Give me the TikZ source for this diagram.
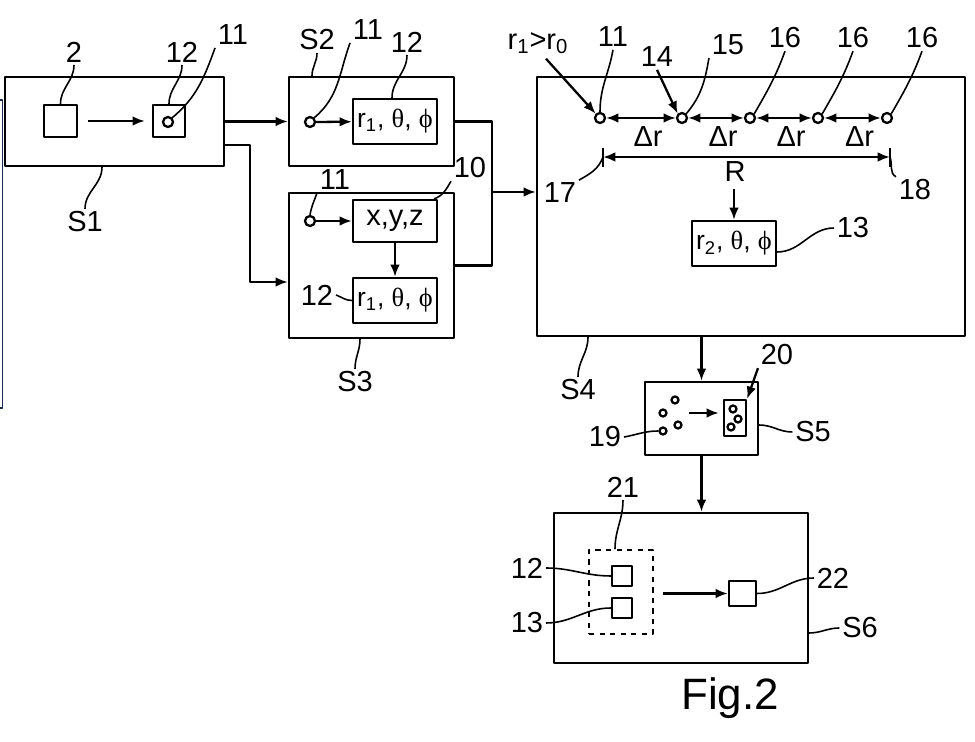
\documentclass[tikz,border=0pt]{standalone}
\usepackage{fontspec}
\setmainfont{Liberation Sans}
\newfontfamily\grk{Liberation Serif}
\usetikzlibrary{arrows.meta,calc}
\definecolor{navy}{RGB}{30,40,85}
\newcommand\rthph[1]{\fontsize{15}{18}\selectfont r\textsubscript{#1}, {\grk θ}, {\grk ϕ}}

\begin{document}
\begin{tikzpicture}[x=0.02cm,y=-0.02cm,line width=1.3pt,join=round,
    font=\fontsize{16.5}{19}\selectfont,
    box/.style 2 args={draw,inner sep=0pt,minimum width=#1*0.02cm,minimum height=#2*0.02cm},
    dot/.style={draw,circle,inner sep=0pt,minimum size=#1*0.02cm},
    arr/.style={-{Latex[length=7pt,width=5.5pt]}},
    dbl/.style={{Latex[length=7pt,width=5.5pt]}-{Latex[length=7pt,width=5.5pt]}},
    lead/.style={line width=0.9pt}]
    \useasboundingbox (0,0) rectangle (975,742);
    \draw[navy,line width=0.8pt] (0,100) -- (2.5,100) -- (2.5,408) -- (0,408);
    % S1
    \node[box={219}{89}] (S1) at (114.5,121.5) {};
    \node[box={33}{32}] (sq2) at (60.5,121) {};
    \node[box={32}{32}] (sq12) at (169,121) {};
    \node[dot=10] (c11a) at (168,122) {};
    \draw[arr,shorten <=0.2cm,shorten >=0.14cm] (sq2.east) -- (sq12.west);
    % S2
    \node[box={165}{89}] (S2) at (371.5,121.5) {};
    \node[dot=10] (c11b) at (310,122) {};
    \node[box={84}{45}] (b12a) at (395,121.5) {\rthph{1}};
    \draw[arr] (c11b) -- (b12a);
    % S3
    \node[box={165}{145}] (S3) at (371.5,265.5) {};
    \node[dot=10] (c11c) at (310,221) {};
    \node[box={84}{42}] (bxyz) at (395,221) {x,y,z};
    \node[box={84}{45}] (b12b) at (395,300.5) {\rthph{1}};
    \draw[arr] (c11c) -- (bxyz);
    \draw[arr] (bxyz) -- (b12b);
    % S4
    \node[box={428}{259}] (S4) at (751,206.5) {};
    \foreach \n/\x in {c1/600,c2/682,c3/750,c4/818,c5/887}
        \node[dot=10] (\n) at (\x,118) {};
    \foreach \a/\b in {c1/c2,c2/c3,c3/c4,c4/c5}
        \draw[dbl] (\a) -- (\b) node[midway,below=1pt,xshift=4pt] (dr\a) {Δr};
    \path (603,148) coordinate (t17a) (603,167) coordinate (t17b) (603,157) coordinate (t17)
          (890,148) coordinate (t18a) (890,167) coordinate (t18b) (890,157) coordinate (t18);
    \draw (t17a) -- (t17b) (t18a) -- (t18b);
    \draw[dbl] (t17) -- (t18);
    \node (R) at (735,172) {R};
    \node[box={84}{45}] (b13) at (734,243.5) {\rthph{2}};
    \draw[arr] (b13.north |- R.south) -- (b13.north);
    % S5
    \node[box={113}{73}] (S5) at (701.5,418.5) {};
    \foreach \n/\x/\y in {d1/663/413,d2/675/400,d3/678/425,d4/663/431}
        \node[dot=7] (\n) at (\x,\y) {};
    \node[box={22}{36}] (r20) at (735,418) {};
    \foreach \n/\x/\y in {e1/733/409,e2/738/419,e3/731/427}
        \node[dot=7] (\n) at (\x,\y) {};
    \path (689,413) coordinate (a5);
    \draw[arr,shorten >=0.08cm] (a5) -- (r20.west |- a5);
    % S6
    \node[box={254}{150}] (S6) at (681,588) {};
    \node[box={64}{84},dashed,line width=1pt] (d21) at (621,592) {};
    \node[box={20}{20}] (sq12c) at (622,576) {};
    \node[box={20}{20}] (sq13) at (622,608) {};
    \node[box={27}{25}] (sq22) at (742.5,593.5) {};
    \draw[arr,shorten <=0.18cm] (d21.east |- sq22) -- (sq22.west);
    % connections between steps
    \draw[arr] (S1.east) -- (S2.west);
    \draw[arr] (S1.east |- 0,145) -- (250,145) |- (S3.west |- 0,282);
    \path (492,192) coordinate (m);
    \draw (S2.east) -| (m) |- (S3.east);
    \draw[arr] (m) -- (S4.west |- m);
    \draw[arr] (S5.north |- S4.south) -- (S5.north);
    \draw[arr] (S5.south) -- (S5.south |- S6.north);
    % labels
    \foreach \n/\t/\x/\y in {l2/2/74/52,l12a/12/182/52,l11a/11/233/35,lS1/S1/85/222,
        lS2/S2/317/40,l11b/11/368/30,l12b/12/407/42,l11c/11/335/180,l10/10/470/168,
        l12c/12/317/295,lS3/S3/355/382,l11d/11/613/37,l15/15/728/45,l16a/16/785/38,
        l16b/16/853/38,l16c/16/922/38,l17/17/560/193,l18/18/915/190,l13/13/853/228,
        lS4/S4/578/390,l20/20/777/355,l19/19/605/437,lS5/S5/813/432,l21/21/623/487,
        l12d/12/527/568,l13b/13/527/623,l22/22/833/578,lS6/S6/860/628,l14/14/657/57}
        \node[inner sep=1pt] (\n) at (\x,\y) {\t};
    \node[inner sep=1pt] (lr) at (538,43) {r\textsubscript{1}>r\textsubscript{0}};
    \node[font=\fontsize{25}{30}\selectfont] (fig) at (730,698) {Fig.2};
    \draw[arr] (lr.south) ++(8,2) -- (c1.north west);
    \draw[arr] (l14.south) -- (c2.north west);
    \draw[arr] (l20.south west) -- (r20.north east);
    % leaders
    \draw[lead] (sq2.north) to[out=90,in=-90] (l2.south);
    \draw[lead] (sq12.north) to[out=90,in=-90] (l12a.south);
    \draw[lead] (c11a.north east) to[out=40,in=-110] (l11a.south west);
    \draw[lead] (S1.south -| 102,0) to[out=-90,in=90] (lS1.north);
    \draw[lead] (S2.north -| 312,0) to[out=90,in=-90] (lS2.south);
    \draw[lead] (c11b.north east) to[out=40,in=-110] (l11b.south west);
    \draw[lead] (b12a.north -| 392,0) to[out=90,in=-90] (l12b.south);
    \draw[lead] (c11c.north) to[out=80,in=-110] (l11c.south west);
    \draw[lead] (bxyz.north east) ++(-4,0) to[out=20,in=-120] (l10.south west);
    \draw[lead] (l12c.east) to[out=-20,in=180] (b12b.west);
    \draw[lead] (S3.south -| 360,0) to[out=-90,in=90] (lS3.north);
    \draw[lead] (c1.north) to[out=90,in=-100] (l11d.south);
    \draw[lead] (c2.north east) to[out=50,in=-100] (l15.south west);
    \draw[lead] (c3.north east) to[out=60,in=-110] (l16a.south);
    \draw[lead] (c4.north east) to[out=60,in=-110] (l16b.south);
    \draw[lead] (c5.north east) to[out=60,in=-110] (l16c.south);
    \draw[lead] (t17) to[out=-110,in=30] (l17.north east);
    \draw[lead] (t18) to[out=-70,in=150] (l18.north west);
    \draw[lead] (b13.east |- 0,252) to[out=0,in=180] (l13.west);
    \draw[lead] (S4.south -| 588,0) to[out=-90,in=90] (lS4.north);
    \draw[lead] (l19.east) to[out=10,in=180] (d4.west);
    \draw[lead] (S5.east |- 0,425) to[out=0,in=180] (lS5.west);
    \draw[lead] (d21.north -| 615,0) to[out=90,in=-90] (l21.south);
    \draw[lead] (l12d.east) to[out=0,in=180] (sq12c.west);
    \draw[lead] (l13b.east) to[out=0,in=180] (sq13.west);
    \draw[lead] (sq22.east) to[out=0,in=180] (l22.west);
    \draw[lead] (S6.east |- 0,633) to[out=0,in=180] (lS6.west);
\end{tikzpicture}
\end{document}
